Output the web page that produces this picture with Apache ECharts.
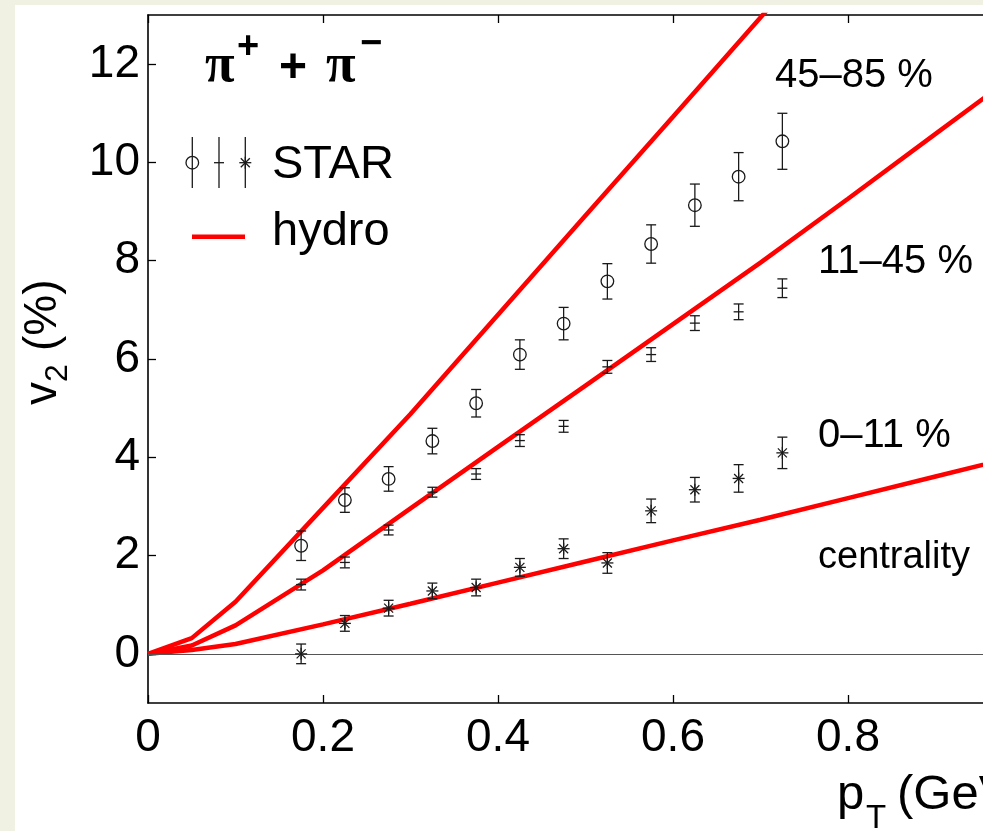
<!DOCTYPE html>
<html>
<head>
<meta charset="utf-8">
<script src="https://cdn.jsdelivr.net/npm/echarts@6/dist/echarts.min.js"></script>
<style>
  html, body { margin: 0; padding: 0; background: #ffffff; }
  #main { width: 983px; height: 831px; }
</style>
</head>
<body>
<div id="main"></div>
<script>
// STAR pi+ + pi- elliptic flow v2 (%) vs transverse momentum, three centrality classes
const pT = [0.175, 0.225, 0.275, 0.325, 0.375, 0.425, 0.475, 0.525, 0.575, 0.625, 0.675, 0.725];

// 45-85 % (open circles)
const v2Peripheral  = [2.20, 3.13, 3.56, 4.33, 5.10, 6.09, 6.72, 7.58, 8.34, 9.13, 9.71, 10.43];
const errPeripheral = [0.30, 0.25, 0.25, 0.26, 0.28, 0.30, 0.33, 0.36, 0.39, 0.43, 0.49, 0.57];

// 11-45 % (plus)
const v2MidCentral  = [1.41, 1.86, 2.52, 3.29, 3.66, 4.34, 4.63, 5.84, 6.09, 6.73, 6.96, 7.44];
const errMidCentral = [0.11, 0.11, 0.10, 0.10, 0.11, 0.12, 0.12, 0.13, 0.14, 0.15, 0.16, 0.19];

// 0-11 % (asterisk)
const v2Central  = [0.00, 0.62, 0.93, 1.28, 1.35, 1.76, 2.14, 1.85, 2.91, 3.34, 3.57, 4.09];
const errCentral = [0.20, 0.16, 0.16, 0.16, 0.17, 0.18, 0.20, 0.21, 0.24, 0.25, 0.28, 0.32];

// hydrodynamic calculations
const hydroPt         = [0, 0.05, 0.1, 0.2, 0.3, 0.4, 0.5, 0.6, 0.7, 0.8, 0.9, 1.0];
const hydroPeripheral = [0, 0.32, 1.06, 2.97, 4.88, 6.90, 8.92, 10.93, 12.95, 14.95, 16.95, 18.95];
const hydroMidCentral = [0, 0.17, 0.58, 1.70, 2.96, 4.21, 5.46, 6.71, 7.96, 9.26, 10.58, 11.90];
const hydroCentral    = [0, 0.08, 0.20, 0.60, 1.02, 1.45, 1.88, 2.31, 2.73, 3.17, 3.61, 4.05];

// axis ticks
const xTicks = [0, 0.2, 0.4, 0.6, 0.8, 1.0];
const yTicks = [0, 2, 4, 6, 8, 10, 12];

const centralityLabels = ['45\u201385 %', '11\u201345 %', '0\u201311 %', 'centrality'];

const SANS = '"Liberation Sans", Arial, Helvetica, sans-serif';
const SERIF = '"Liberation Serif", "Times New Roman", serif';
const INK = '#1a1a1a';

function zip3(x, y, e) { return x.map((v, i) => [v, y[i], e[i]]); }
function zip2(x, y) { return x.map((v, i) => [v, y[i]]); }

function lineSt() { return { stroke: INK, lineWidth: 1.3, fill: 'none' }; }

const markers = {
  circle(ch, x, y) { ch.push({ type: 'circle', shape: { cx: x, cy: y, r: 6.3 }, style: lineSt() }); },
  plus(ch, x, y) {
    ch.push({ type: 'line', shape: { x1: x - 5, y1: y, x2: x + 5, y2: y }, style: lineSt() });
  },
  star(ch, x, y) {
    const a = 6, d = 4.5;
    ch.push({ type: 'line', shape: { x1: x - a, y1: y, x2: x + a, y2: y }, style: lineSt() });
    ch.push({ type: 'line', shape: { x1: x, y1: y - a, x2: x, y2: y + a }, style: lineSt() });
    ch.push({ type: 'line', shape: { x1: x - d, y1: y - d, x2: x + d, y2: y + d }, style: lineSt() });
    ch.push({ type: 'line', shape: { x1: x - d, y1: y + d, x2: x + d, y2: y - d }, style: lineSt() });
  }
};

function errorBarItem(marker) {
  return function (params, api) {
    const x = api.value(0), y = api.value(1), e = api.value(2);
    const c = api.coord([x, y]);
    const hi = api.coord([x, y + e]);
    const lo = api.coord([x, y - e]);
    const cap = 5;
    const ch = [
      { type: 'line', shape: { x1: c[0], y1: hi[1], x2: c[0], y2: lo[1] }, style: lineSt() },
      { type: 'line', shape: { x1: c[0] - cap, y1: hi[1], x2: c[0] + cap, y2: hi[1] }, style: lineSt() },
      { type: 'line', shape: { x1: c[0] - cap, y1: lo[1], x2: c[0] + cap, y2: lo[1] }, style: lineSt() }
    ];
    markers[marker](ch, c[0], c[1]);
    return { type: 'group', children: ch };
  };
}

function hydroSeries(name, values) {
  return {
    name: name, type: 'line', data: zip2(hydroPt, values),
    showSymbol: false, symbol: 'none', smooth: false, clip: true, z: 3,
    lineStyle: { color: '#ff0000', width: 4.5 }, silent: true
  };
}

function txt(text, x, y, size, opts) {
  opts = opts || {};
  return {
    type: 'text', x: x, y: y, z: 50, silent: true,
    style: {
      text: text, fill: '#000', fontSize: size,
      fontFamily: opts.family || SANS, fontWeight: opts.weight || 'normal',
      align: opts.align || 'left', verticalAlign: 'middle',
      textAlign: opts.align || 'left', textVerticalAlign: 'middle'
    }
  };
}

// legend glyphs
function legendBar(x, marker) {
  const ch = [{ type: 'line', shape: { x1: x, y1: 137, x2: x, y2: 188 }, style: lineSt() }];
  markers[marker](ch, x, 162.7);
  return ch;
}

const graphics = [
  // page frame strips
  { type: 'rect', shape: { x: 0, y: 0, width: 15, height: 831 }, style: { fill: '#f0f0e3' }, z: -10, silent: true },
  { type: 'rect', shape: { x: 0, y: 0, width: 983, height: 5 }, style: { fill: '#f0f0e3' }, z: -10, silent: true },

  // title: pi+ + pi-
  txt('\u03c0', 205, 67, 54, { family: SERIF, weight: 'bold' }),
  txt('+', 237, 47.5, 38, { weight: 'bold' }),
  txt('+', 279, 69, 48, { weight: 'bold' }),
  txt('\u03c0', 326, 67, 54, { family: SERIF, weight: 'bold' }),
  txt('\u2212', 360, 45, 38, { weight: 'bold' }),

  // legend
  { type: 'group', z: 50, silent: true, children: []
      .concat(legendBar(192.3, 'circle'))
      .concat(legendBar(219, 'plus'))
      .concat(legendBar(245.3, 'star')) },
  txt('STAR', 272, 165, 47),
  { type: 'line', z: 50, silent: true, shape: { x1: 192, y1: 236.7, x2: 245, y2: 236.7 }, style: { stroke: '#ff0000', lineWidth: 4.5 } },
  txt('hydro', 272, 232, 47),

  // centrality annotations
  txt(centralityLabels[0], 775, 76, 40),
  txt(centralityLabels[1], 818, 262, 40),
  txt(centralityLabels[2], 818, 435.5, 40),
  txt(centralityLabels[3], 818, 558, 38),

  // x axis title: p_T (GeV/c)
  txt('p', 837, 795, 49),
  txt('T', 866, 819, 33),
  txt('(GeV/c)', 897, 795, 49),

  // y axis title: v_2 (%), rotated
  { type: 'group', x: 59, y: 405, rotation: Math.PI / 2, z: 50, silent: true,
    children: [
      txt('v', 0, -16, 46),
      txt('2', 23, -1, 32),
      txt('(%)', 54, -16, 46)
    ] }
];

const axisLineStyle = { color: '#000', width: 1.6 };
const tickStyle = { color: '#000', width: 1.3 };

const option = {
  animation: false,
  backgroundColor: 'transparent',
  // plot box runs past the right edge of the page (x up to 1.0)
  grid: { left: 148, top: 15, width: 875, height: 688, containLabel: false, outerBoundsMode: 'none', show: false },
  xAxis: [
    {
      type: 'value', min: 0, max: 1, interval: 0.2, position: 'bottom',
      axisLine: { show: true, onZero: false, lineStyle: axisLineStyle },
      axisTick: { show: true, inside: true, length: 8, lineStyle: tickStyle, customValues: xTicks },
      axisLabel: { show: true, margin: 12, fontSize: 46, fontFamily: SANS, color: '#000', customValues: xTicks },
      splitLine: { show: false }
    },
    {
      type: 'value', min: 0, max: 1, interval: 0.2, position: 'top',
      axisLine: { show: true, onZero: false, lineStyle: axisLineStyle },
      axisTick: { show: true, inside: true, length: 8, lineStyle: tickStyle, customValues: xTicks },
      axisLabel: { show: false },
      splitLine: { show: false }
    }
  ],
  yAxis: [
    {
      type: 'value', min: -1, max: 13, interval: 1, position: 'left',
      axisLine: { show: true, onZero: false, lineStyle: axisLineStyle },
      axisTick: { show: true, inside: true, length: 8, lineStyle: tickStyle, customValues: yTicks },
      axisLabel: { show: true, margin: 8, fontSize: 46, fontFamily: SANS, color: '#000', customValues: yTicks },
      splitLine: { show: false }
    }
  ],
  graphic: graphics,
  series: [
    {
      name: 'zero', type: 'line', data: [], silent: true, z: 1,
      markLine: {
        silent: true, symbol: 'none', label: { show: false }, animation: false,
        lineStyle: { color: '#555', width: 1, type: 'solid' },
        data: [{ yAxis: 0 }]
      }
    },
    hydroSeries('hydro 45-85%', hydroPeripheral),
    hydroSeries('hydro 11-45%', hydroMidCentral),
    hydroSeries('hydro 0-11%', hydroCentral),
    { name: 'STAR 45-85%', type: 'custom', z: 5, data: zip3(pT, v2Peripheral, errPeripheral), renderItem: errorBarItem('circle') },
    { name: 'STAR 11-45%', type: 'custom', z: 5, data: zip3(pT, v2MidCentral, errMidCentral), renderItem: errorBarItem('plus') },
    { name: 'STAR 0-11%', type: 'custom', z: 5, data: zip3(pT, v2Central, errCentral), renderItem: errorBarItem('star') }
  ]
};

const chart = echarts.init(document.getElementById('main'), null, { renderer: 'canvas', width: 983, height: 831 });
chart.setOption(option);
</script>
</body>
</html>
